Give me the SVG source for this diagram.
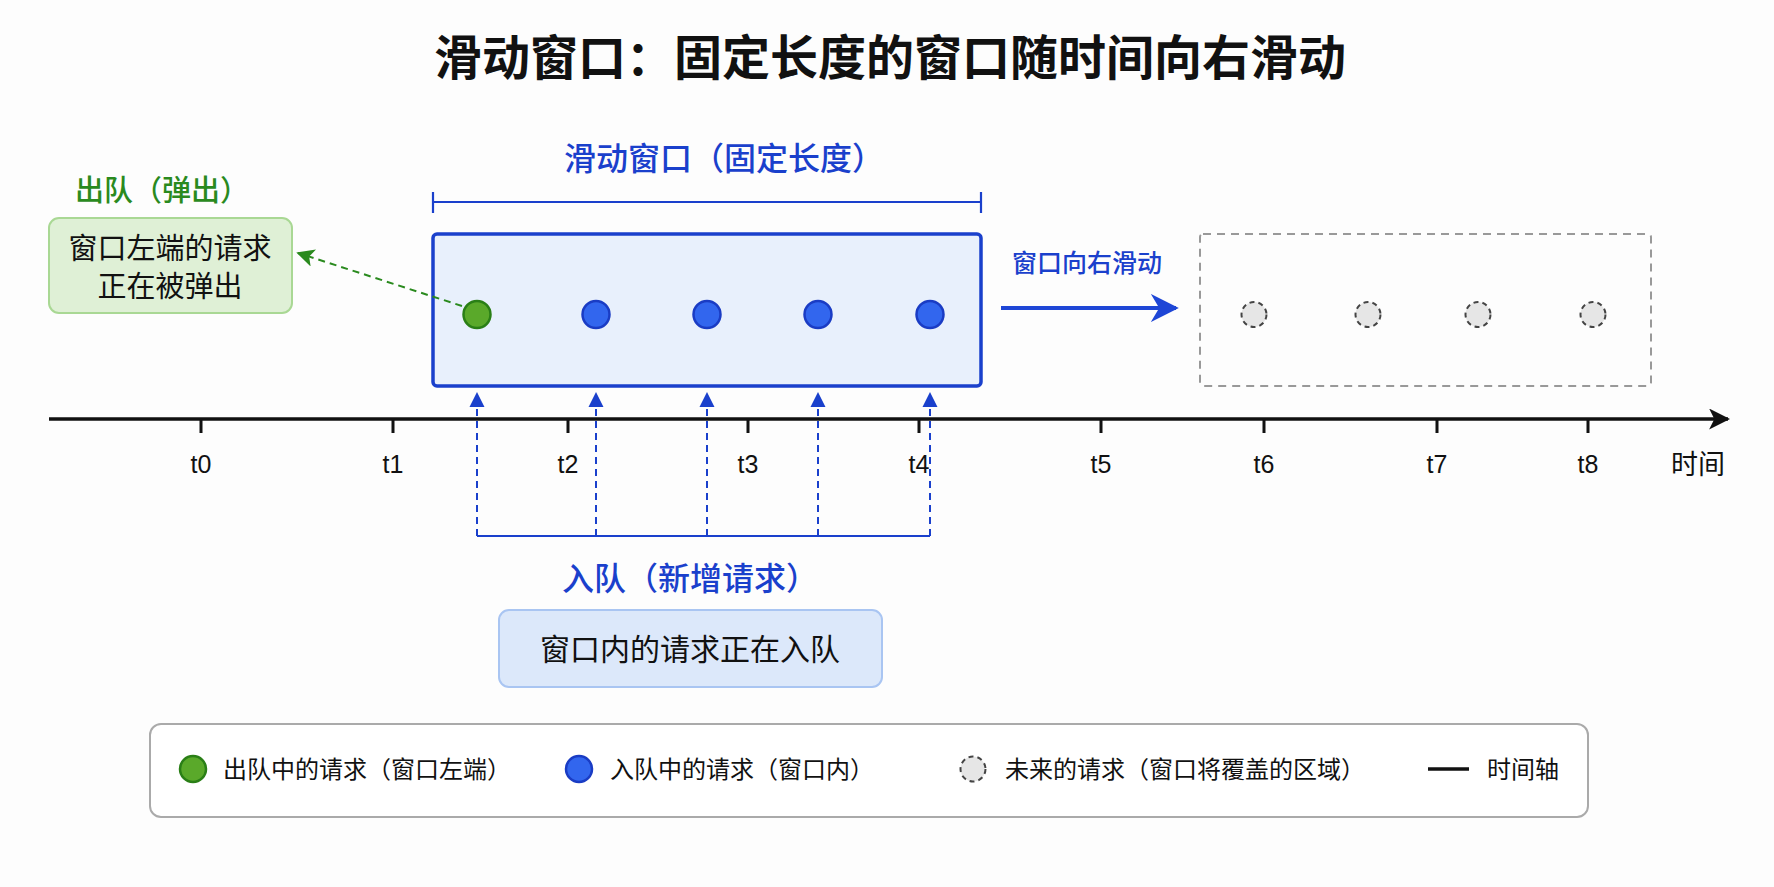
<svg xmlns="http://www.w3.org/2000/svg" width="1774" height="887" viewBox="0 0 1774 887">
<style>
.cjk{font-family:"Noto Sans CJK SC","Noto Sans",sans-serif}
.lat{font-family:"Liberation Sans",Arial,sans-serif;font-size:25px;fill:#111;text-anchor:middle}
.blue{fill:#1a40cc;font-weight:500}
.green{fill:#2a8a1e;font-weight:500}
.dark{fill:#111}
.reqG{fill:#5aa92a;stroke:#2a7f16;stroke-width:2.5}
.reqB{fill:#3266ee;stroke:#1a3cc4;stroke-width:2.5}
.reqF{fill:#e6e6e6;stroke:#444;stroke-width:2;stroke-dasharray:5 4}
.enq{stroke:#1a40cc;stroke-width:2;stroke-dasharray:7 5;fill:none}
.tick{stroke:#111;stroke-width:3}
</style>
<defs>
<marker id="arrBig" viewBox="0 0 10 10" refX="9" refY="5" markerWidth="7" markerHeight="7" markerUnits="strokeWidth" orient="auto"><path d="M0,0 L10,5 L0,10 L3,5 z" fill="#1e46d6"/></marker>
<marker id="arrG" viewBox="0 0 10 10" refX="9" refY="5" markerWidth="9" markerHeight="9" markerUnits="strokeWidth" orient="auto"><path d="M0,0 L10,5 L0,10 L2.5,5 z" fill="#2a8a1e"/></marker>
<marker id="arrK" viewBox="0 0 10 10" refX="9" refY="5" markerWidth="6" markerHeight="6" markerUnits="strokeWidth" orient="auto"><path d="M0,0 L10,5 L0,10 L2.5,5 z" fill="#111"/></marker>
</defs>
<rect width="1774" height="887" fill="#fdfdfd"/>

<text x="890" y="75" text-anchor="middle" class="cjk dark" font-size="48" font-weight="bold">滑动窗口：固定长度的窗口随时间向右滑动</text>

<g id="window-label">
<text x="724" y="170" text-anchor="middle" class="cjk blue" font-size="32">滑动窗口（固定长度）</text>
<path d="M433,192 V213 M433,202 H981 M981,192 V213" stroke="#1a40cc" stroke-width="2.2" fill="none"/>
</g>

<g id="window">
<rect x="433" y="234" width="548" height="152" rx="4" fill="#e8f0fc" stroke="#1a40cc" stroke-width="3.5"/>
<circle cx="477" cy="314.5" r="13.5" class="reqG"/>
<circle cx="596" cy="314.5" r="13.5" class="reqB"/>
<circle cx="707" cy="314.5" r="13.5" class="reqB"/>
<circle cx="818" cy="314.5" r="13.5" class="reqB"/>
<circle cx="930" cy="314.5" r="13.5" class="reqB"/>
</g>

<g id="dequeue">
<text x="162" y="201" text-anchor="middle" class="cjk green" font-size="29">出队（弹出）</text>
<rect x="49" y="218" width="243" height="95" rx="10" fill="#dff0d6" stroke="#a9d894" stroke-width="2"/>
<text x="170" y="259" text-anchor="middle" class="cjk dark" font-size="29">窗口左端的请求</text>
<text x="170" y="297" text-anchor="middle" class="cjk dark" font-size="29">正在被弹出</text>
</g>

<g id="slide">
<text x="1087" y="272" text-anchor="middle" class="cjk blue" font-size="25">窗口向右滑动</text>
</g>

<g id="future">
<rect x="1200" y="234" width="451" height="152" rx="3" fill="none" stroke="#999" stroke-width="2" stroke-dasharray="8 6"/>
<circle cx="1254" cy="314.5" r="12.5" class="reqF"/>
<circle cx="1368" cy="314.5" r="12.5" class="reqF"/>
<circle cx="1478" cy="314.5" r="12.5" class="reqF"/>
<circle cx="1593" cy="314.5" r="12.5" class="reqF"/>
</g>

<g id="axis">
<line x1="49" y1="419" x2="1728" y2="419" stroke="#111" stroke-width="3.5" marker-end="url(#arrK)"/>
<path class="tick" d="M201,419V433 M393,419V433 M568,419V433 M748,419V433 M919,419V433 M1101,419V433 M1264,419V433 M1437,419V433 M1588,419V433"/>
<text x="201" y="473" class="lat">t0</text>
<text x="393" y="473" class="lat">t1</text>
<text x="568" y="473" class="lat">t2</text>
<text x="748" y="473" class="lat">t3</text>
<text x="919" y="473" class="lat">t4</text>
<text x="1101" y="473" class="lat">t5</text>
<text x="1264" y="473" class="lat">t6</text>
<text x="1437" y="473" class="lat">t7</text>
<text x="1588" y="473" class="lat">t8</text>
<text x="1698" y="474" text-anchor="middle" class="cjk dark" font-size="27">时间</text>
</g>

<g id="enqueue">
<text x="690" y="590" text-anchor="middle" class="cjk blue" font-size="32">入队（新增请求）</text>
<rect x="499" y="610" width="383" height="77" rx="10" fill="#dce8fa" stroke="#a9c5f2" stroke-width="2"/>
<text x="690" y="660" text-anchor="middle" class="cjk dark" font-size="30">窗口内的请求正在入队</text>
</g>

<g id="connectors">
<line x1="462" y1="306" x2="298" y2="253" stroke="#2a8a1e" stroke-width="2" stroke-dasharray="7 5" marker-end="url(#arrG)"/>
<line x1="1001" y1="308" x2="1176" y2="308" stroke="#1e46d6" stroke-width="4" marker-end="url(#arrBig)"/>
<path class="enq" d="M477,536V400 M596,536V400 M707,536V400 M818,536V400 M930,536V400"/>
<path d="M477,536H930" stroke="#1a40cc" stroke-width="2.2" fill="none"/>
<path d="M477,392 l-7.5,15 h15 z M596,392 l-7.5,15 h15 z M707,392 l-7.5,15 h15 z M818,392 l-7.5,15 h15 z M930,392 l-7.5,15 h15 z" fill="#1a40cc"/>
</g>

<g id="legend">
<rect x="150" y="724" width="1438" height="93" rx="11" fill="#fff" stroke="#aaa" stroke-width="2"/>
<circle cx="193" cy="769" r="13" class="reqG"/>
<text x="223" y="778" class="cjk dark" font-size="24">出队中的请求（窗口左端）</text>
<circle cx="579" cy="769" r="13" class="reqB"/>
<text x="610" y="778" class="cjk dark" font-size="24">入队中的请求（窗口内）</text>
<circle cx="973" cy="769" r="12.5" class="reqF"/>
<text x="1005" y="778" class="cjk dark" font-size="24">未来的请求（窗口将覆盖的区域）</text>
<line x1="1428" y1="769" x2="1469" y2="769" stroke="#111" stroke-width="3.5"/>
<text x="1487" y="778" class="cjk dark" font-size="24">时间轴</text>
</g>
</svg>
